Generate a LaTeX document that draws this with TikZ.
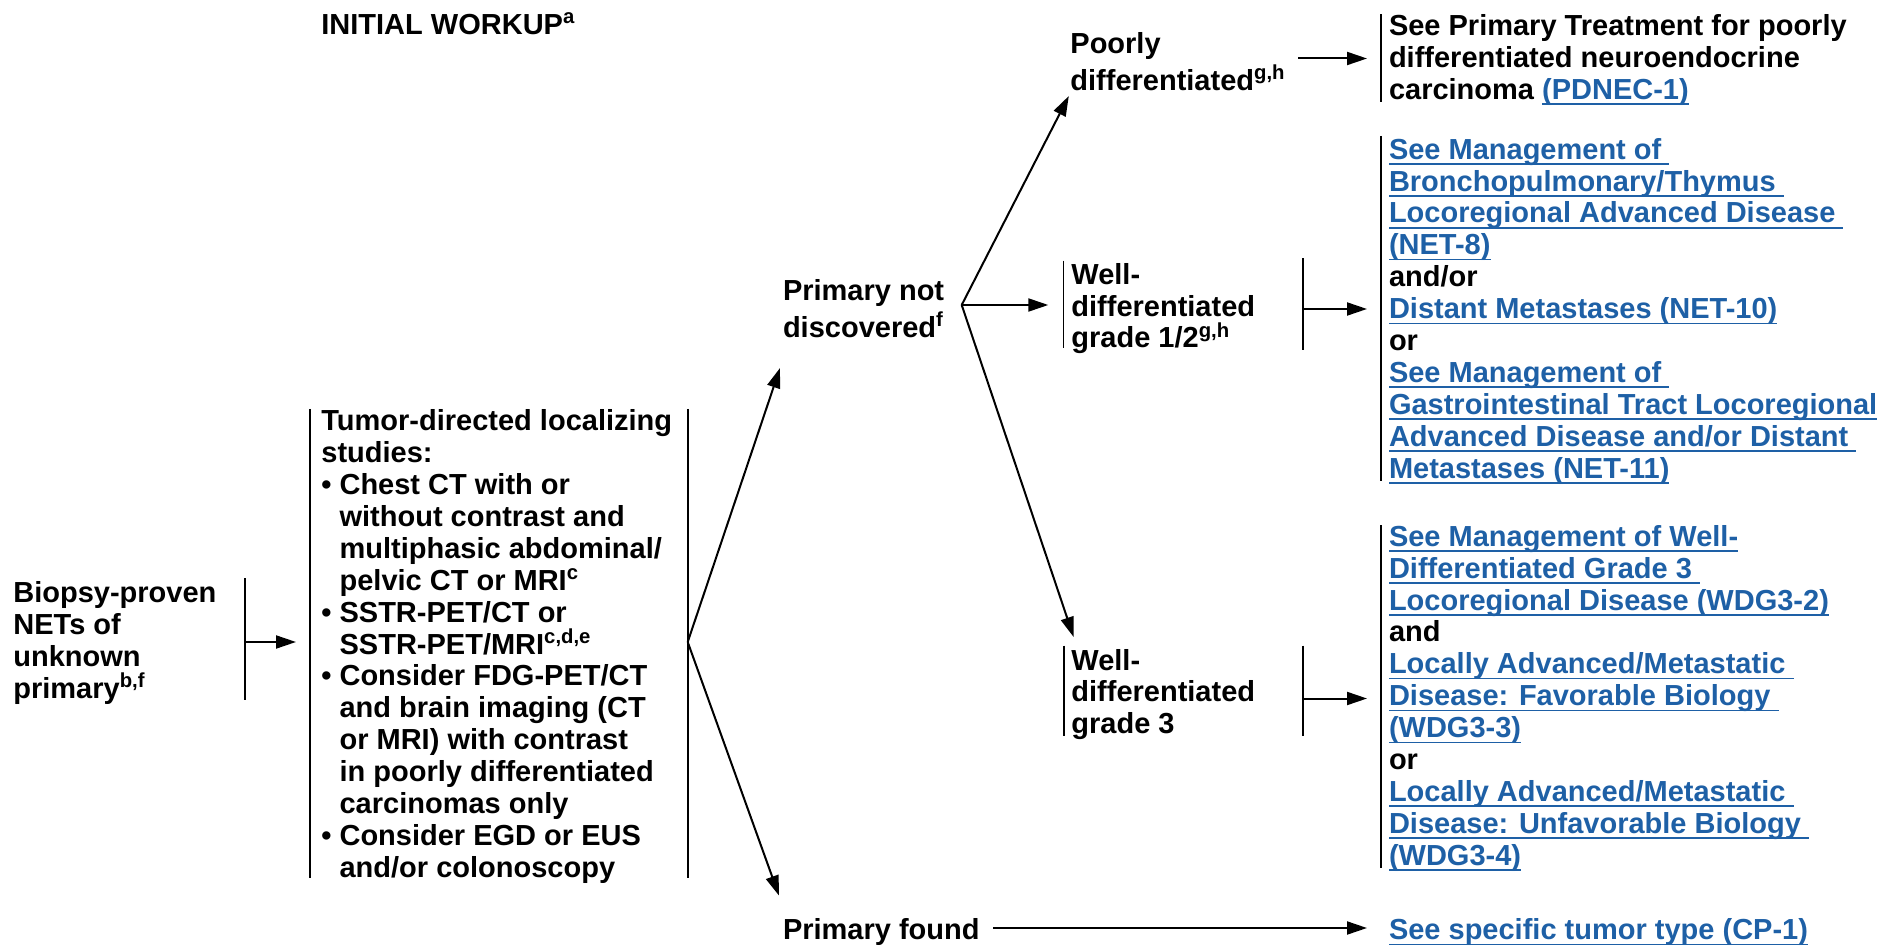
\documentclass[tikz,border=0pt]{standalone}
\usepackage{fontspec}
\setmainfont{Liberation Sans}
\usetikzlibrary{arrows.meta}
\definecolor{linkblue}{RGB}{30,96,166}
\newsavebox\lkbox
\newcommand\lk[1]{\textcolor{linkblue}{\sbox\lkbox{#1}\rlap{\rule[-2.8pt]{\wd\lkbox}{0.8pt}}\usebox\lkbox}}
\newcommand\myind{\hphantom{•\ }}
\tikzset{
  txt/.style={anchor=north west, inner sep=0pt, align=left, font=\fontsize{14.5}{15.95}\selectfont\bfseries},
  barline/.style={line width=0.85pt},
  arr/.style={-{Triangle[length=10pt,width=6.5pt]}, line width=1pt}
}
\begin{document}
\begin{tikzpicture}[x=0.5pt,y=-0.5pt]
\useasboundingbox (0,0) rectangle (1885,946);

% text nodes
\node[txt] (init) at (321,11.4) {\strut INITIAL WORKUP\textsuperscript{a}};
\node[txt] (bio) at (13,580) {\strut Biopsy-proven\\NETs of\\unknown\\primary\textsuperscript{b,f}};
\node[txt] (loc) at (321,408) {\strut Tumor-directed localizing\\
studies:\\
• Chest CT with or\\
\myind without contrast and\\
\myind multiphasic abdominal/\\
\myind pelvic CT or MRI\textsuperscript{c}\\
• SSTR-PET/CT or\\
\myind SSTR-PET/MRI\textsuperscript{c,d,e}\\
• Consider FDG-PET/CT\\
\myind and brain imaging (CT\\
\myind or MRI) with contrast\\
\myind in poorly differentiated\\
\myind carcinomas only\\
• Consider EGD or EUS\\
\myind and/or colonoscopy};
\node[txt] (pnd) at (782.6,277.7) {\strut Primary not\\discovered\textsuperscript{f}};
\node[txt] (poor) at (1070,30.6) {\strut Poorly\\differentiated\textsuperscript{g,h}};
\node[txt] (pdnec) at (1388.6,12.6) {\strut See Primary Treatment for poorly\\differentiated neuroendocrine\\carcinoma \lk{(PDNEC-1)}};
\node[txt] (w12) at (1071,261.4) {\strut Well-\\differentiated\\grade 1/2\textsuperscript{g,h}};
\node[txt] (net) at (1388.6,136.4) {\strut\lk{See Management of\ }\\
\lk{Bronchopulmonary/Thymus\ }\\
\lk{Locoregional Advanced Disease\ }\\
\lk{(NET-8)}\\
and/or\\
\lk{Distant Metastases (NET-10)}\\
or\\
\lk{See Management of\ }\\
\lk{Gastrointestinal Tract Locoregional}\\
\lk{Advanced Disease and/or Distant\ }\\
\lk{Metastases (NET-11)}};
\node[txt] (w3) at (1071,647.3) {\strut Well-\\differentiated\\grade 3};
\node[txt] (wdg) at (1388.6,523.5) {\strut\lk{See Management of Well-}\\
\lk{Differentiated Grade 3\ }\\
\lk{Locoregional Disease (WDG3-2)}\\
and\\
\lk{Locally Advanced/Metastatic\ }\\
\lk{Disease: Favorable Biology\ }\\
\lk{(WDG3-3)}\\
or\\
\lk{Locally Advanced/Metastatic\ }\\
\lk{Disease: Unfavorable Biology\ }\\
\lk{(WDG3-4)}};
\node[txt] (pf) at (782.6,917) {\strut Primary found};
\node[txt] (cp) at (1388.6,917) {\strut\lk{See specific tumor type (CP-1)}};

% coordinates
\coordinate (bioT) at (245,578); \coordinate (bioB) at (245,700); \coordinate (bioOut) at (245,642);
\coordinate (locIn) at (296,642);
\coordinate (locLT) at (310,409); \coordinate (locLB) at (310,878);
\coordinate (locRT) at (687.7,409); \coordinate (locRB) at (687.7,878); \coordinate (locOut) at (687.7,642);
\coordinate (pndIn) at (780,368); \coordinate (pfIn) at (779,895.6);
\coordinate (pndOut) at (961.7,305);
\coordinate (poorIn) at (1068.8,96); \coordinate (poorOut) at (1298,58.5); \coordinate (pdnecIn) at (1367,58.5);
\coordinate (pdnecT) at (1381,14.4); \coordinate (pdnecB) at (1381,102);
\coordinate (w12In) at (1048.3,305);
\coordinate (w12LT) at (1063.5,260.7); \coordinate (w12LB) at (1063.5,348.3);
\coordinate (w12RT) at (1303,258.5); \coordinate (w12RB) at (1303,350);
\coordinate (w12Out) at (1303,309); \coordinate (netIn) at (1367,309);
\coordinate (netT) at (1381,136); \coordinate (netB) at (1381,481);
\coordinate (w3In) at (1073.6,637);
\coordinate (w3LT) at (1064,645.6); \coordinate (w3LB) at (1064,735.7);
\coordinate (w3RT) at (1303,645.6); \coordinate (w3RB) at (1303,735.7);
\coordinate (w3Out) at (1303,698.5); \coordinate (wdgIn) at (1367,698.5);
\coordinate (wdgT) at (1381,525); \coordinate (wdgB) at (1381,868);
\coordinate (pfOut) at (993,928); \coordinate (cpIn) at (1367,928);

% bars
\draw[barline] (bioT) -- (bioB);
\draw[barline] (locLT) -- (locLB);
\draw[barline] (locRT) -- (locRB);
\draw[barline] (pdnecT) -- (pdnecB);
\draw[barline] (w12LT) -- (w12LB);
\draw[barline] (w12RT) -- (w12RB);
\draw[barline] (netT) -- (netB);
\draw[barline] (w3LT) -- (w3LB);
\draw[barline] (w3RT) -- (w3RB);
\draw[barline] (wdgT) -- (wdgB);

% arrows
\draw[arr] (bioOut) -- (locIn);
\draw[arr] (locOut) -- (pndIn);
\draw[arr] (locOut) -- (pfIn);
\draw[arr] (pndOut) -- (poorIn);
\draw[arr] (pndOut) -- (w12In);
\draw[arr] (pndOut) -- (w3In);
\draw[arr] (poorOut) -- (pdnecIn);
\draw[arr] (w12Out) -- (netIn);
\draw[arr] (w3Out) -- (wdgIn);
\draw[arr] (pfOut) -- (cpIn);
\end{tikzpicture}
\end{document}
